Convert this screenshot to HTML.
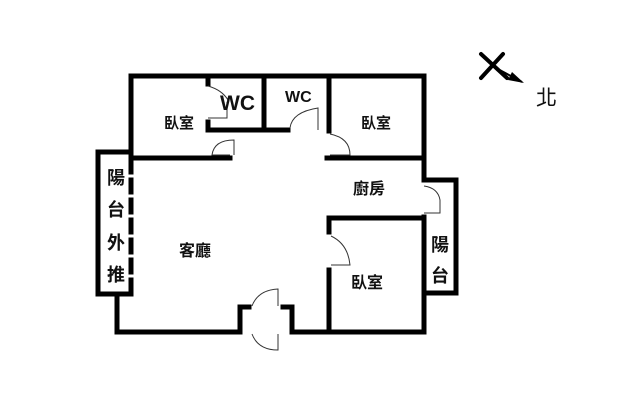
<!DOCTYPE html>
<html><head><meta charset="utf-8"><style>
body{margin:0;background:#fff;width:625px;height:413px;overflow:hidden}
text{font-family:"Liberation Sans","Noto Sans CJK TC",sans-serif;fill:#111}
</style></head><body>
<svg width="625" height="413" viewBox="0 0 625 413">
<g stroke="#000" stroke-width="5" fill="none" stroke-linecap="square">
<path d="M131 76 H424 V180"/>
<path d="M131 76 V158 H230"/>
<path d="M327 158 H424"/>
<path d="M131 152 H98 V294 H131"/>
<path d="M131 160 V292" stroke-dasharray="12 8"/>
<path d="M117 294 V332 H240 V307 H249"/>
<path d="M283 307 H292 V332 H424 V217"/>
<path d="M208 76 V84"/>
<path d="M208 122 V130 H288"/>
<path d="M264 76 V130"/>
<path d="M329 76 V131"/>
<path d="M424 180 H456 V293 H424"/>
<path d="M329 218 H424"/>
<path d="M329 218 V232"/>
<path d="M329 270 V332"/>
</g>
<g stroke="#333" stroke-width="1" fill="none">
<path d="M208 86 Q222 90 228 100 M208 118 H227 V102"/>
<path d="M230 155 H212 Q214 140 234 140 V155"/>
<path d="M290 128 Q292 112 318 108 V130"/>
<path d="M330 134 Q350 138 350 155 H330"/>
<path d="M424 186 Q438 188 440 200 V213 H424"/>
<path d="M331 236 Q348 244 350 265 H331"/>
<path d="M252 306 Q258 290 278 289 V306 M252 334 Q258 350 278 350 V334"/>
</g>
<g stroke="#000" stroke-width="4" stroke-linecap="round">
<path d="M481 54 L507 78 M481 78 L503 54"/>
</g>
<path d="M496 68 L522 82" stroke="#000" stroke-width="2"/>
<path d="M512 72 L524 83 L508 80 Z" fill="#000"/>
<text x="536" y="105" font-size="21">北</text>
<text x="164" y="128" font-size="15" font-weight="bold">臥室</text>
<text x="220" y="110" font-size="21" font-weight="bold">WC</text>
<text x="285" y="102" font-size="16" font-weight="bold">WC</text>
<text x="361" y="128" font-size="15" font-weight="bold">臥室</text>
<text x="353" y="194" font-size="16" font-weight="bold">廚房</text>
<text x="179" y="256" font-size="16" font-weight="bold">客廳</text>
<text x="351" y="288" font-size="16" font-weight="bold">臥室</text>
<g font-size="18" font-weight="bold">
<text x="107" y="184">陽</text><text x="107" y="216">台</text>
<text x="107" y="249">外</text><text x="107" y="281">推</text>
<text x="431" y="251">陽</text><text x="431" y="282">台</text>
</g>
</svg>
</body></html>
